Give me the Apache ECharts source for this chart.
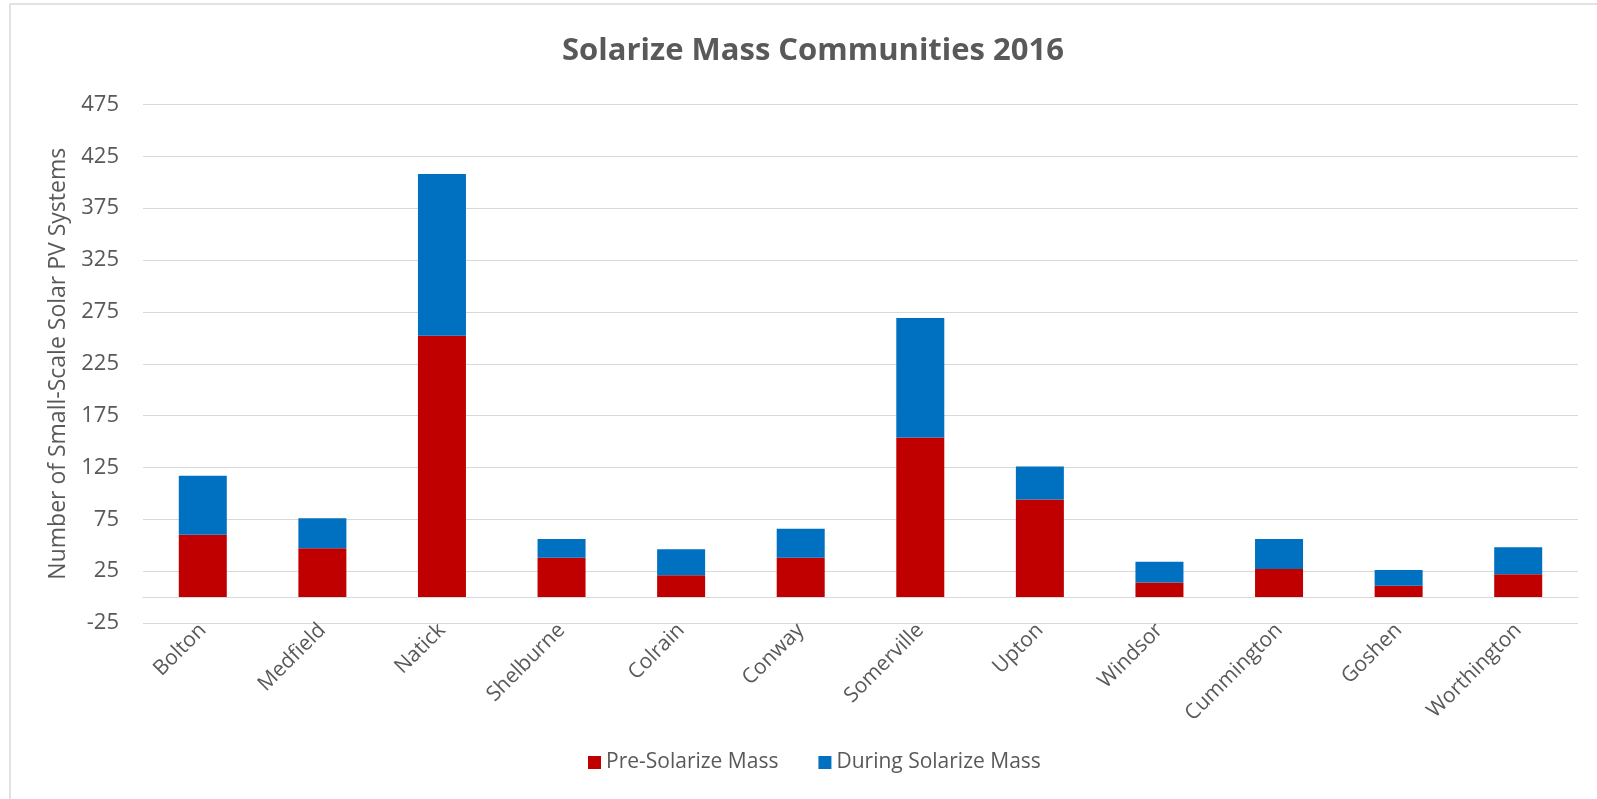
<!DOCTYPE html>
<html>
<head>
<meta charset="utf-8">
<script src="https://cdn.jsdelivr.net/npm/echarts@6/dist/echarts.min.js"></script>
<style>
html,body{margin:0;padding:0;background:#fff;}
#chart{width:1597px;height:799px;}
</style>
</head>
<body>
<div id="chart"></div>
<script>
const categories = ['Bolton','Medfield','Natick','Shelburne','Colrain','Conway','Somerville','Upton','Windsor','Cummington','Goshen','Worthington'];
const preSolarize = [60, 47, 252, 38, 21, 38, 154, 94, 14, 27, 11, 22];
const duringSolarize = [57, 29, 156, 18, 25, 28, 115, 32, 20, 29, 15, 26];
const seriesNames = ['Pre-Solarize Mass', 'During Solarize Mass'];
const titleText = 'Solarize Mass Communities 2016';
const yAxisTitle = 'Number of Small-Scale Solar PV Systems';

const FONT = '"Open Sans", "Noto Sans", sans-serif';
const chart = echarts.init(document.getElementById('chart'), null, {renderer: 'canvas'});
chart.setOption({
  backgroundColor: '#fff',
  animation: false,
  textStyle: {fontFamily: FONT},
  graphic: [{
    type: 'rect', shape: {x: 10, y: 4, width: 1700, height: 900},
    style: {fill: 'none', stroke: '#D9D9D9', lineWidth: 1.5}, silent: true, z: -10
  }],
  title: {
    text: titleText, left: 808, textAlign: 'center', top: 31,
    textStyle: {fontFamily: FONT, fontWeight: 'bold', fontSize: 31, color: '#595959'}
  },
  legend: {
    data: seriesNames, bottom: 21, left: 583, itemWidth: 13, itemHeight: 13, itemGap: 40,
    icon: 'rect',
    textStyle: {fontFamily: FONT, fontSize: 21, color: '#595959'}
  },
  grid: {left: 143, right: 19, top: 104.5, bottom: 176},
  xAxis: {
    type: 'category', data: categories,
    axisLine: {onZero: true, lineStyle: {color: '#D9D9D9', width: 1}},
    axisTick: {show: false},
    axisLabel: {rotate: 45, margin: 4, fontFamily: FONT, fontSize: 21, color: '#595959', interval: 0}
  },
  yAxis: {
    type: 'value', min: -25, max: 475, interval: 50,
    name: yAxisTitle, nameLocation: 'middle', nameGap: 73,
    nameTextStyle: {fontFamily: FONT, fontSize: 23, color: '#595959'},
    axisLine: {show: false}, axisTick: {show: false},
    axisLabel: {margin: 24, fontFamily: FONT, fontSize: 22, color: '#595959'},
    splitLine: {lineStyle: {color: '#D9D9D9', width: 1}}
  },
  series: [
    {name: seriesNames[0], type: 'bar', stack: 'total', data: preSolarize, barWidth: 48,
     itemStyle: {color: '#C00000'}},
    {name: seriesNames[1], type: 'bar', stack: 'total', data: duringSolarize, barWidth: 48,
     itemStyle: {color: '#0070C0'}}
  ]
});
</script>
</body>
</html>
